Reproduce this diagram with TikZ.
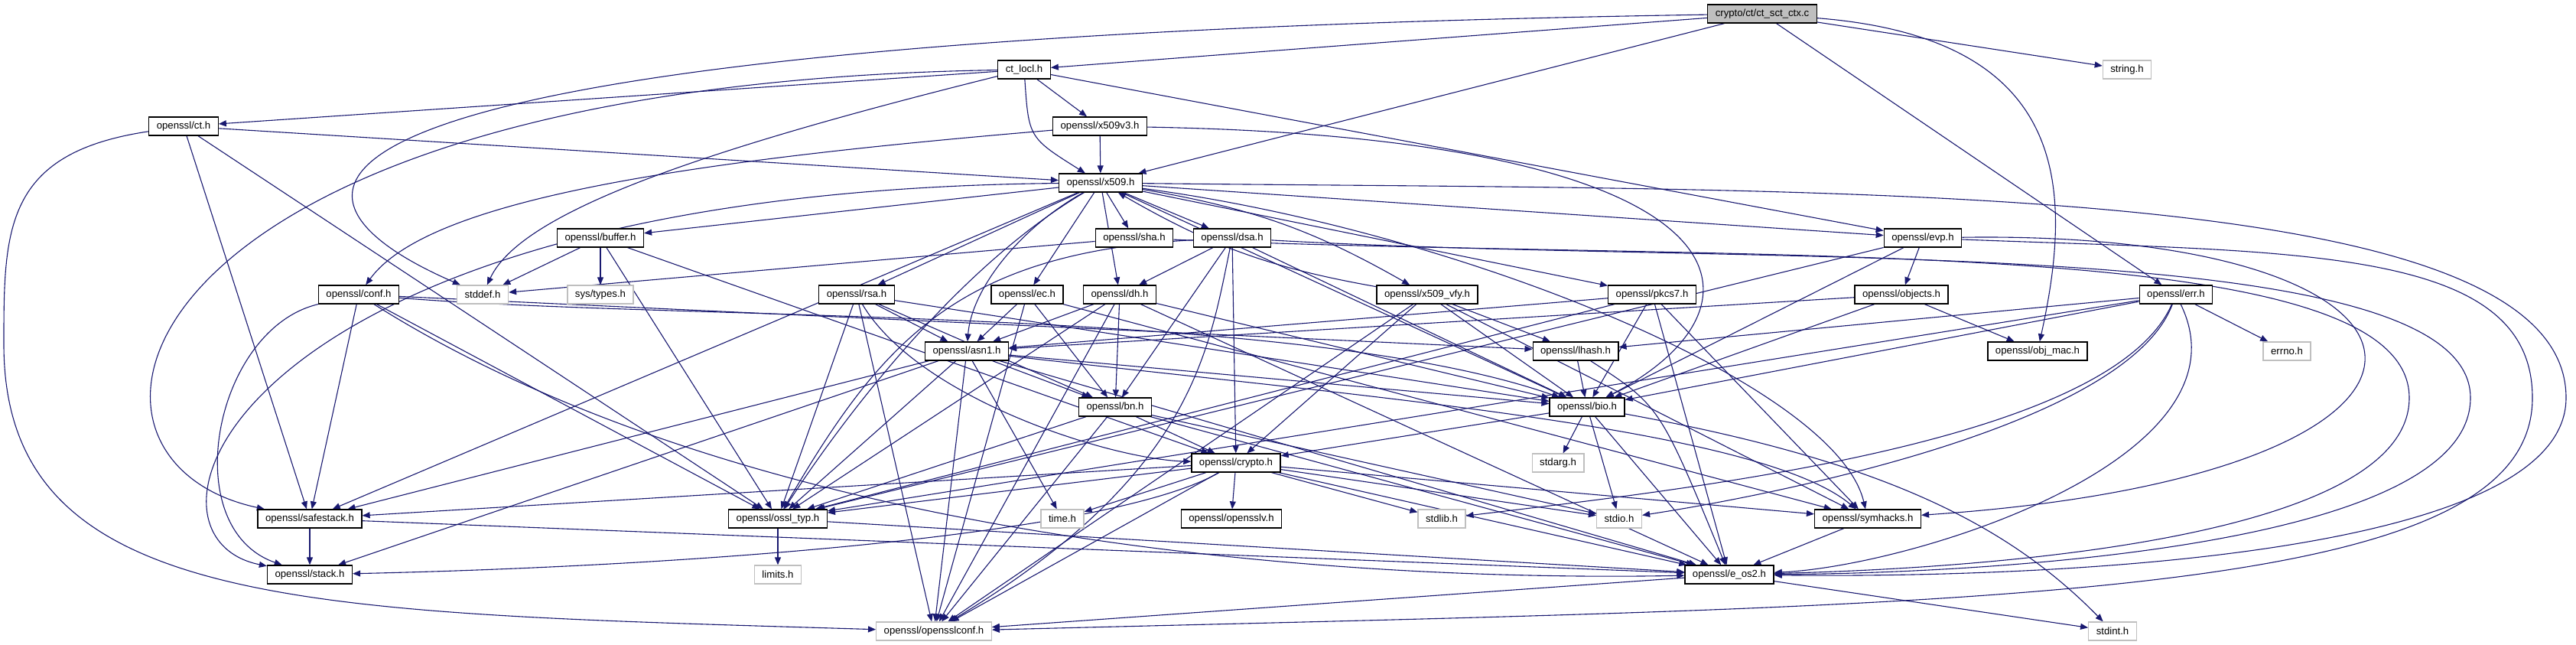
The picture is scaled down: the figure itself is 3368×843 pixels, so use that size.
\documentclass[tikz,border=0pt]{standalone}
\usepackage{fontspec}
\setmainfont{Liberation Sans}
\usetikzlibrary{arrows.meta,backgrounds}
\definecolor{edgeblue}{HTML}{191970}
\definecolor{sysgray}{HTML}{BFBFBF}

\begin{document}
\begin{tikzpicture}[x=1pt, y=-1pt,
  hdr/.style={draw=black, fill=white, line width=1.3pt, minimum height=24pt, inner xsep=10pt, inner ysep=0pt, font=\fontsize{13.2}{15}\selectfont},
  sys/.style={hdr, draw=sysgray},
  src/.style={hdr, fill=sysgray},
  dep/.style={-{Triangle[length=10pt,width=8pt]}, line width=1.1pt, edgeblue}
]
  \useasboundingbox (0,0) rectangle (3368,843);

  % row 1
  \node[src] (root) at (2304,18) {crypto/ct/ct\_sct\_ctx.c};
  % row 2
  \node[hdr] (ctlocl) at (1339,91) {ct\_locl.h};
  \node[sys] (stringh) at (2781,91) {string.h};
  % row 3
  \node[hdr] (ct) at (240,165) {openssl/ct.h};
  \node[hdr] (x509v3) at (1438,165) {openssl/x509v3.h};
  % row 4
  \node[hdr] (x509) at (1439,239) {openssl/x509.h};
  % row 5
  \node[hdr] (buffer) at (785,311) {openssl/buffer.h};
  \node[hdr] (sha) at (1483,311) {openssl/sha.h};
  \node[hdr] (dsa) at (1611,311) {openssl/dsa.h};
  \node[hdr] (evp) at (2514,311) {openssl/evp.h};
  % row 6
  \node[hdr] (conf) at (469,385) {openssl/conf.h};
  \node[sys] (stddef) at (631,385) {stddef.h};
  \node[sys] (systypes) at (785,385) {sys/types.h};
  \node[hdr] (rsa) at (1120,385) {openssl/rsa.h};
  \node[hdr] (ec) at (1343,385) {openssl/ec.h};
  \node[hdr] (dh) at (1464,385) {openssl/dh.h};
  \node[hdr] (x509vfy) at (1866,385) {openssl/x509\_vfy.h};
  \node[hdr] (pkcs7) at (2160,385) {openssl/pkcs7.h};
  \node[hdr] (objects) at (2486,385) {openssl/objects.h};
  \node[hdr] (err) at (2845,385) {openssl/err.h};
  % row 7
  \node[hdr] (asn1) at (1264,459) {openssl/asn1.h};
  \node[hdr] (lhash) at (2060,459) {openssl/lhash.h};
  \node[hdr] (objmac) at (2664,459) {openssl/obj\_mac.h};
  \node[sys] (errno) at (2990,459) {errno.h};
  % row 8
  \node[hdr] (bn) at (1458,532) {openssl/bn.h};
  \node[hdr] (bio) at (2075,532) {openssl/bio.h};
  % row 9
  \node[hdr] (crypto) at (1616,605) {openssl/crypto.h};
  \node[sys] (stdarg) at (2037,605) {stdarg.h};
  % row 10
  \node[hdr] (safestack) at (405,678) {openssl/safestack.h};
  \node[hdr] (osslt) at (1017,678) {openssl/ossl\_typ.h};
  \node[sys] (timeh) at (1389,678) {time.h};
  \node[hdr] (opensslv) at (1610,678) {openssl/opensslv.h};
  \node[sys] (stdlib) at (1885,678) {stdlib.h};
  \node[sys] (stdio) at (2117,678) {stdio.h};
  \node[hdr] (symhacks) at (2442,678) {openssl/symhacks.h};
  % row 11
  \node[hdr] (stack) at (405,751) {openssl/stack.h};
  \node[sys] (limits) at (1017,751) {limits.h};
  \node[hdr] (eos2) at (2261,751) {openssl/e\_os2.h};
  % row 12
  \node[sys] (opensslconf) at (1221,825) {openssl/opensslconf.h};
  \node[sys] (stdint) at (2762,825) {stdint.h};

  \begin{scope}[on background layer]
  % crypto/ct/ct_sct_ctx.c
  \draw[dep] (root) -- (ctlocl);
  \draw[dep] (root) -- (stringh);
  \draw[dep] (root) -- (err);
  \draw[dep] (root) -- (x509);
  \draw[dep] (root) .. controls (300,50) and (320,250) .. (stddef);
  \draw[dep] (root) .. controls (2710,50) and (2710,250) .. (objmac);
  % ct_locl.h
  \draw[dep] (ctlocl) -- (ct);
  \draw[dep] (ctlocl) -- (x509v3);
  \draw[dep] (ctlocl) .. controls (1345,180) .. (x509);
  \draw[dep] (ctlocl) -- (evp);
  \draw[dep] (ctlocl) .. controls (900,200) and (680,280) .. (stddef);
  \draw[dep] (ctlocl) .. controls (150,110) and (40,600) .. (safestack);
  % openssl/ct.h
  \draw[dep] (ct) -- (x509);
  \draw[dep] (ct) -- (safestack);
  \draw[dep] (ct) -- (osslt);
  \draw[dep] (ct) .. controls (5,200) and (5,300) .. (5,450) .. controls (5,800) and (400,800) .. (opensslconf);
  % openssl/x509v3.h
  \draw[dep] (x509v3) -- (x509);
  \draw[dep] (x509v3) .. controls (900,210) and (560,260) .. (conf);
  \draw[dep] (x509v3) .. controls (2300,180) and (2330,400) .. (bio);
  % openssl/x509.h
  \draw[dep] (x509) -- (buffer);
  \draw[dep] (x509) -- (sha);
  \draw[dep] (x509) -- (dsa);
  \draw[dep] (x509) -- (rsa);
  \draw[dep] (x509) -- (ec);
  \draw[dep] (x509) -- (dh);
  \draw[dep] (x509) -- (evp);
  \draw[dep] (x509) -- (bio);
  \draw[dep] (x509) -- (pkcs7);
  \draw[dep] (x509) -- (safestack);
  \draw[dep] (x509) .. controls (1330,300) and (1270,380) .. (asn1);
  \draw[dep] (x509) .. controls (1250,350) and (1100,550) .. (osslt);
  \draw[dep] (x509) .. controls (300,250) and (150,700) .. (stack);
  \draw[dep] (x509) .. controls (1900,300) and (2400,500) .. (symhacks);
  \draw[dep] (x509) to[bend left=10] (x509vfy);
  \draw[dep] (x509) .. controls (2400,250) and (3355,230) .. (3355,520) .. controls (3355,740) and (2600,755) .. (eos2);
  % openssl/buffer.h
  \draw[dep] (buffer) -- (osslt);
  \draw[dep] (buffer) -- (crypto);
  \draw[dep] (buffer) -- (stddef);
  \draw[dep] (buffer) -- (systypes);
  % openssl/sha.h
  \draw[dep] (sha) -- (stddef);
  \draw[dep] (sha) .. controls (2300,345) and (3150,300) .. (3150,520) .. controls (3150,720) and (2500,745) .. (eos2);
  % openssl/dsa.h
  \draw[dep] (dsa) -- (dh);
  \draw[dep] (dsa) -- (bn);
  \draw[dep] (dsa) -- (crypto);
  \draw[dep] (dsa) -- (bio);
  \draw[dep] (dsa) .. controls (1250,330) and (1150,450) .. (osslt);
  \draw[dep] (dsa) .. controls (1580,460) and (1560,620) .. (opensslconf);
  \draw[dep] (dsa) .. controls (2300,350) and (3230,300) .. (3230,520) .. controls (3230,730) and (2500,750) .. (eos2);
  % openssl/evp.h
  \draw[dep] (evp) -- (objects);
  \draw[dep] (evp) -- (bio);
  \draw[dep] (evp) -- (osslt);
  \draw[dep] (evp) .. controls (3250,300) and (3300,620) .. (symhacks);
  \draw[dep] (evp) .. controls (3000,330) and (3311,320) .. (3311,520) .. controls (3311,790) and (2600,790) .. (opensslconf);
  % openssl/conf.h
  \draw[dep] (conf) -- (safestack);
  \draw[dep] (conf) -- (osslt);
  \draw[dep] (conf) -- (lhash);
  \draw[dep] (conf) .. controls (280,430) and (230,690) .. (stack);
  \draw[dep] (conf) .. controls (900,420) and (1700,400) .. (bio);
  \draw[dep] (conf) .. controls (1000,720) and (1800,760) .. (eos2);
  % openssl/rsa.h
  \draw[dep] (rsa) -- (asn1);
  \draw[dep] (rsa) -- (bn);
  \draw[dep] (rsa) -- (bio);
  \draw[dep] (rsa) -- (osslt);
  \draw[dep] (rsa) -- (opensslconf);
  \draw[dep] (rsa) .. controls (1200,520) and (1450,600) .. (crypto);
  % openssl/ec.h
  \draw[dep] (ec) -- (asn1);
  \draw[dep] (ec) -- (bn);
  \draw[dep] (ec) -- (symhacks);
  \draw[dep] (ec) -- (opensslconf);
  % openssl/dh.h
  \draw[dep] (dh) -- (asn1);
  \draw[dep] (dh) -- (bn);
  \draw[dep] (dh) -- (bio);
  \draw[dep] (dh) -- (osslt);
  \draw[dep] (dh) -- (eos2);
  \draw[dep] (dh) -- (opensslconf);
  % openssl/x509_vfy.h
  \draw[dep] (x509vfy) to[bend left=10] (x509);
  \draw[dep] (x509vfy) -- (opensslconf);
  \draw[dep] (x509vfy) -- (lhash);
  \draw[dep] (x509vfy) -- (bio);
  \draw[dep] (x509vfy) -- (crypto);
  \draw[dep] (x509vfy) -- (symhacks);
  % openssl/pkcs7.h
  \draw[dep] (pkcs7) -- (asn1);
  \draw[dep] (pkcs7) -- (bio);
  \draw[dep] (pkcs7) -- (eos2);
  \draw[dep] (pkcs7) -- (symhacks);
  \draw[dep] (pkcs7) -- (osslt);
  % openssl/objects.h
  \draw[dep] (objects) -- (objmac);
  \draw[dep] (objects) -- (bio);
  \draw[dep] (objects) -- (asn1);
  % openssl/err.h
  \draw[dep] (err) -- (errno);
  \draw[dep] (err) -- (lhash);
  \draw[dep] (err) -- (bio);
  \draw[dep] (err) -- (osslt);
  \draw[dep] (err) .. controls (2780,560) and (2300,650) .. (stdio);
  \draw[dep] (err) .. controls (2760,580) and (2200,640) .. (stdlib);
  \draw[dep] (err) .. controls (2950,600) and (2500,740) .. (eos2);
  % openssl/asn1.h
  \draw[dep] (asn1) -- (timeh);
  \draw[dep] (asn1) -- (opensslconf);
  \draw[dep] (asn1) -- (bn);
  \draw[dep] (asn1) -- (osslt);
  \draw[dep] (asn1) -- (safestack);
  \draw[dep] (asn1) -- (stack);
  \draw[dep] (asn1) -- (bio);
  \draw[dep] (asn1) -- (eos2);
  \draw[dep] (asn1) .. controls (1800,520) and (2300,560) .. (symhacks);
  % openssl/lhash.h
  \draw[dep] (lhash) -- (bio);
  \draw[dep] (lhash) .. controls (2170,530) .. (eos2);
  % openssl/bn.h
  \draw[dep] (bn) -- (crypto);
  \draw[dep] (bn) -- (opensslconf);
  \draw[dep] (bn) -- (osslt);
  \draw[dep] (bn) -- (eos2);
  \draw[dep] (bn) -- (stdio);
  % openssl/bio.h
  \draw[dep] (bio) -- (stdarg);
  \draw[dep] (bio) -- (stdio);
  \draw[dep] (bio) -- (eos2);
  \draw[dep] (bio) -- (crypto);
  \draw[dep] (bio) .. controls (2450,600) and (2620,680) .. (stdint);
  % openssl/crypto.h
  \draw[dep] (crypto) -- (stdlib);
  \draw[dep] (crypto) -- (timeh);
  \draw[dep] (crypto) -- (eos2);
  \draw[dep] (crypto) -- (stdio);
  \draw[dep] (crypto) -- (safestack);
  \draw[dep] (crypto) -- (opensslv);
  \draw[dep] (crypto) -- (osslt);
  \draw[dep] (crypto) -- (opensslconf);
  \draw[dep] (crypto) -- (symhacks);
  \draw[dep] (crypto) .. controls (1450,700) and (900,740) .. (stack);
  % leaves
  \draw[dep] (safestack) -- (stack);
  \draw[dep] (safestack) -- (eos2);
  \draw[dep] (osslt) -- (limits);
  \draw[dep] (osslt) -- (eos2);
  \draw[dep] (symhacks) -- (eos2);
  \draw[dep] (eos2) -- (opensslconf);
  \draw[dep] (eos2) -- (stdint);
  \end{scope}
\end{tikzpicture}
\end{document}
